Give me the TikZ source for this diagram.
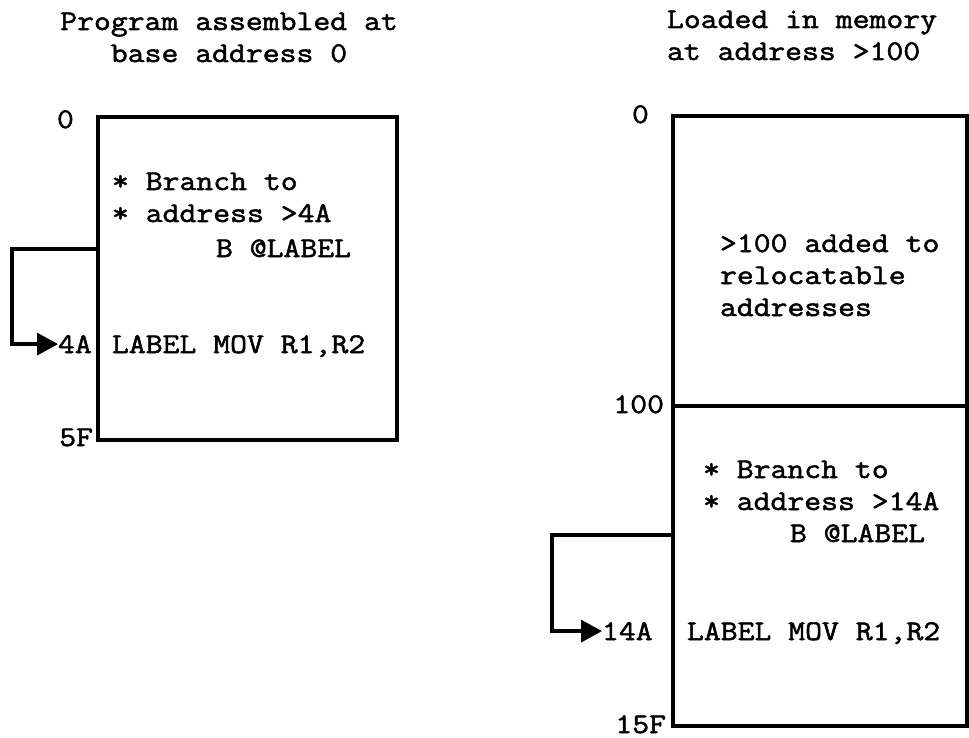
\documentclass[tikz,border=0pt]{standalone}
\usepackage{fontspec}
\setmonofont[FakeBold=1.8,FakeStretch=1.15]{Latin Modern Mono}
\usetikzlibrary{arrows.meta}
\begin{document}
\begin{tikzpicture}[x=1pt,y=-1pt,
  txt/.style={font=\ttfamily\fontsize{28.5}{33}\selectfont, inner sep=0pt, outer sep=0pt, anchor=base west},
  ctxt/.style={txt, anchor=base},
  rtxt/.style={txt, anchor=base east},
  membox/.style={draw, line width=4pt, inner sep=0pt, outer sep=0pt, anchor=north west},
  conn/.style={line width=3.5pt, -{Triangle[length=21pt,width=22pt]}}]
\useasboundingbox (0,0) rectangle (969,738);

% titles
\node[ctxt] (tL1) at (229,30) {Program assembled at};
\node[ctxt] (tL2) at (229,62) {base address 0};
\node[txt] (tR1) at (667,28) {Loaded in memory};
\node[txt] (tR2) at (667,60) {at address >100};

% left box
\node[membox, minimum width=299pt, minimum height=323pt] (boxL) at (98,117) {};
\node[txt] (a0L) at (57,128) {0};
\node[rtxt] (a5F) at (93,446) {5F};
\node[txt] (cL1) at (112,190) {* Branch to};
\node[txt] (cL2) at (112,222) {* address >4A};
\node[txt] (cL3) at (216,257) {B @LABEL};
\node[txt] (cL4) at (112,353) {LABEL MOV R1,R2};
\node[txt] (l4A) at (58,353) {4A};
\coordinate (srcL) at (98,249);
\draw[conn] (srcL) -- ++(-86,0) |- (l4A.west);

% right boxes
\node[membox, minimum width=294pt, minimum height=290pt] (boxRt) at (673,116) {};
\node[membox, minimum width=294pt, minimum height=320pt] (boxRb) at (673,406) {};
\node[txt] (a0R) at (632,123) {0};
\node[rtxt] (a100) at (664,413) {100};
\node[rtxt] (a15F) at (666,733) {15F};
\node[txt] (rT1) at (720,252) {>100 added to};
\node[txt] (rT2) at (720,284) {relocatable};
\node[txt] (rT3) at (720,316) {addresses};
\node[txt] (cR1) at (703,478) {* Branch to};
\node[txt] (cR2) at (703,510) {* address >14A};
\node[txt] (cR3) at (790,542) {B @LABEL};
\node[txt] (cR4) at (687,640) {LABEL MOV R1,R2};
\node[txt] (l14A) at (602,640) {14A};
\coordinate (srcR) at (673,535);
\draw[conn] (srcR) -- ++(-121,0) |- (l14A.west);
\end{tikzpicture}
\end{document}
